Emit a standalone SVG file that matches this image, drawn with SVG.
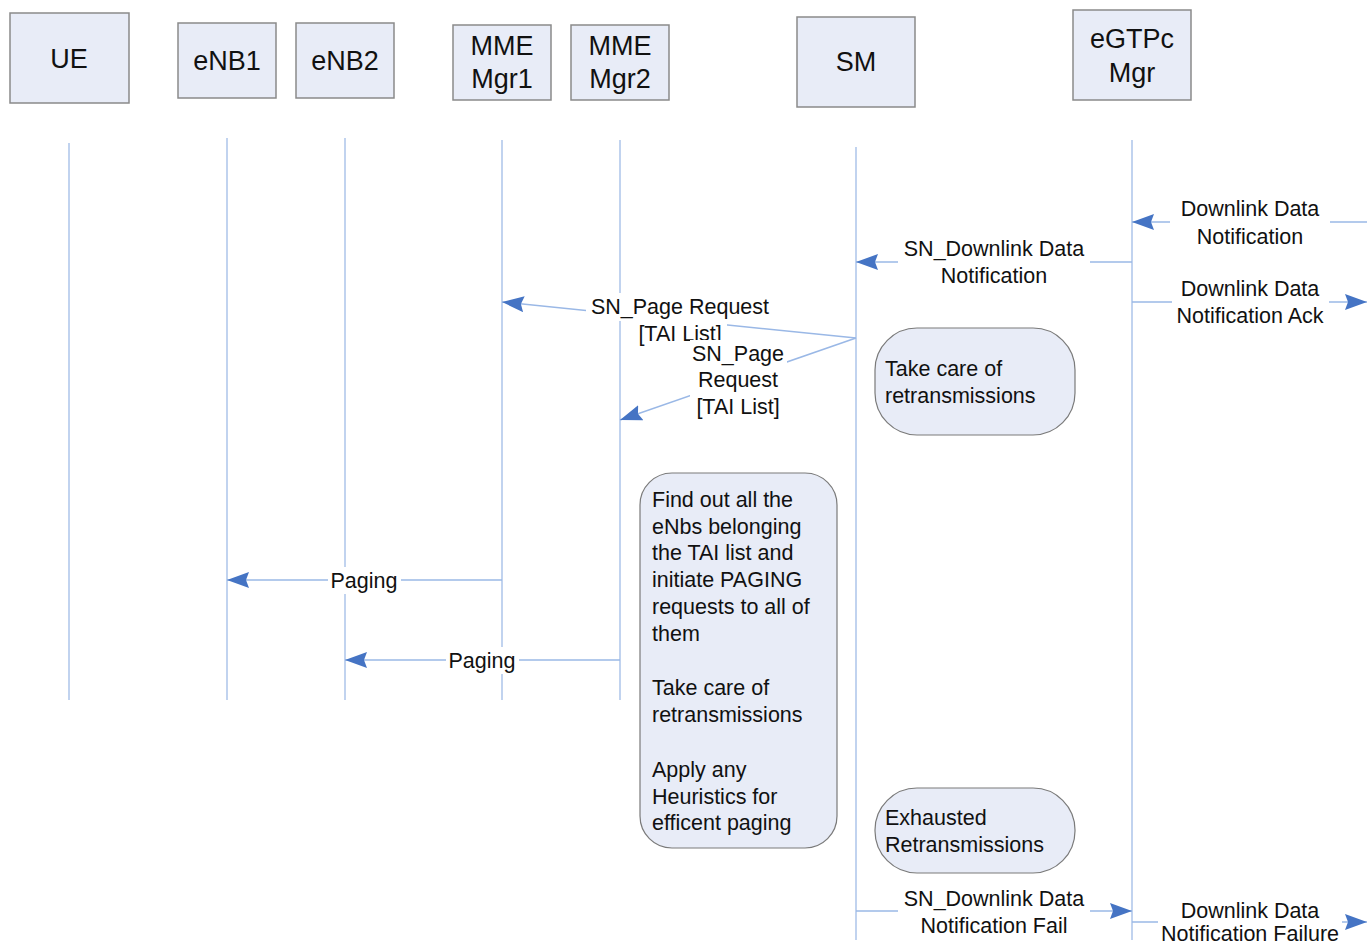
<svg xmlns="http://www.w3.org/2000/svg" width="1367" height="943" viewBox="0 0 1367 943">
<style>
.box{fill:#e8ecf7;stroke:#8a8a8a;stroke-width:1.5}
.note{fill:#e8ecf7;stroke:#7a7a7a;stroke-width:1.2}
.life{stroke:#adc5ea;stroke-width:1.5;fill:none}
.msg{stroke:#9ab8e6;stroke-width:1.5;fill:none}
.bg{fill:#ffffff}
text{font-family:"Liberation Sans",Arial,sans-serif;fill:#111}
.h{font-size:27px;text-anchor:middle}
.l{font-size:21.5px;text-anchor:middle}
.n{font-size:21.5px}
</style>
<defs>
<marker id="ah" markerUnits="userSpaceOnUse" markerWidth="24" markerHeight="16" refX="22" refY="8" orient="auto">
<path d="M0,0 L22,8 L0,16 L3,8 Z" fill="#4574c4"/>
</marker>
</defs>
<rect width="1367" height="943" fill="#ffffff"/>
<g id="lifelines">
<line class="life" x1="69" y1="143" x2="69" y2="700"/>
<line class="life" x1="227" y1="138" x2="227" y2="700"/>
<line class="life" x1="345" y1="138" x2="345" y2="700"/>
<line class="life" x1="502" y1="140" x2="502" y2="700"/>
<line class="life" x1="620" y1="140" x2="620" y2="700"/>
<line class="life" x1="856" y1="147" x2="856" y2="940"/>
<line class="life" x1="1132" y1="140" x2="1132" y2="940"/>
</g>
<g id="UE"><rect class="box" x="10" y="13" width="119" height="90"/><text class="h" x="69" y="68">UE</text></g>
<g id="eNB1"><rect class="box" x="178" y="23" width="98" height="75"/><text class="h" x="227" y="70">eNB1</text></g>
<g id="eNB2"><rect class="box" x="296" y="23" width="98" height="75"/><text class="h" x="345" y="70">eNB2</text></g>
<g id="MMEMgr1"><rect class="box" x="453" y="25" width="98" height="75"/><text class="h" x="502" y="55">MME</text><text class="h" x="502" y="88">Mgr1</text></g>
<g id="MMEMgr2"><rect class="box" x="571" y="25" width="98" height="75"/><text class="h" x="620" y="55">MME</text><text class="h" x="620" y="88">Mgr2</text></g>
<g id="SM"><rect class="box" x="797" y="17" width="118" height="90"/><text class="h" x="856" y="71">SM</text></g>
<g id="eGTPcMgr"><rect class="box" x="1073" y="10" width="118" height="90"/><text class="h" x="1132" y="48">eGTPc</text><text class="h" x="1132" y="82">Mgr</text></g>
<g id="connectors">
<line class="msg" x1="1367" y1="222" x2="1132" y2="222" marker-end="url(#ah)"/>
<rect class="bg" x="1170" y="195" width="160" height="54"/>
<text class="l" x="1250" y="215.5">Downlink Data</text><text class="l" x="1250" y="243.5">Notification</text>
<line class="msg" x1="1132" y1="262" x2="856" y2="262" marker-end="url(#ah)"/>
<rect class="bg" x="898" y="235" width="192" height="54"/>
<text class="l" x="994" y="255.5">SN_Downlink Data</text><text class="l" x="994" y="282.5">Notification</text>
<line class="msg" x1="1132" y1="302" x2="1367" y2="302" marker-end="url(#ah)"/>
<rect class="bg" x="1172" y="275" width="157" height="54"/>
<text class="l" x="1250" y="295.5">Downlink Data</text><text class="l" x="1250" y="322.5">Notification Ack</text>
<line class="msg" x1="856" y1="338" x2="502" y2="302" marker-end="url(#ah)"/>
<rect class="bg" x="586" y="293" width="188" height="28"/>
<rect class="bg" x="632" y="320" width="95" height="27"/>
<text class="l" x="680" y="313.5">SN_Page Request</text><text class="l" x="680" y="340.5">[TAI List]</text>
<line class="msg" x1="856" y1="338" x2="620" y2="420" marker-end="url(#ah)"/>
<rect class="bg" x="690" y="340" width="97" height="79"/>
<text class="l" x="738" y="360.5">SN_Page</text><text class="l" x="738" y="387">Request</text><text class="l" x="738" y="413.5">[TAI List]</text>
<line class="msg" x1="502" y1="580" x2="227" y2="580" marker-end="url(#ah)"/>
<rect class="bg" x="328" y="567" width="73" height="27"/>
<text class="l" x="364" y="587.5">Paging</text>
<line class="msg" x1="620" y1="660" x2="345" y2="660" marker-end="url(#ah)"/>
<rect class="bg" x="446" y="647" width="73" height="27"/>
<text class="l" x="482" y="667.5">Paging</text>
<line class="msg" x1="856" y1="911" x2="1132" y2="911" marker-end="url(#ah)"/>
<rect class="bg" x="898" y="884" width="192" height="54"/>
<text class="l" x="994" y="905.5">SN_Downlink Data</text><text class="l" x="994" y="932.5">Notification Fail</text>
<line class="msg" x1="1132" y1="922" x2="1367" y2="922" marker-end="url(#ah)"/>
<rect class="bg" x="1158" y="896" width="184" height="47"/>
<text class="l" x="1250" y="917.5">Downlink Data</text><text class="l" x="1250" y="940.5">Notification Failure</text>
</g>
<g id="note-retrans"><rect class="note" x="875" y="328" width="200" height="107" rx="42" ry="42"/>
<text class="n" x="885" y="375.5">Take care of</text><text class="n" x="885" y="402.5">retransmissions</text></g>
<g id="note-paging"><rect class="note" x="640" y="473" width="197" height="375" rx="32" ry="32"/>
<text class="n" x="652" y="506.5">Find out all the</text>
<text class="n" x="652" y="533.5">eNbs belonging</text>
<text class="n" x="652" y="560">the TAI list and</text>
<text class="n" x="652" y="586.5">initiate PAGING</text>
<text class="n" x="652" y="613.5">requests to all of</text>
<text class="n" x="652" y="640.5">them</text>
<text class="n" x="652" y="695">Take care of</text>
<text class="n" x="652" y="721.5">retransmissions</text>
<text class="n" x="652" y="776.5">Apply any</text>
<text class="n" x="652" y="803.5">Heuristics for</text>
<text class="n" x="652" y="830">efficent paging</text>
</g>
<g id="note-exhausted"><rect class="note" x="875" y="788" width="200" height="85" rx="42" ry="42"/>
<text class="n" x="885" y="824.5">Exhausted</text><text class="n" x="885" y="852">Retransmissions</text></g>
</svg>
